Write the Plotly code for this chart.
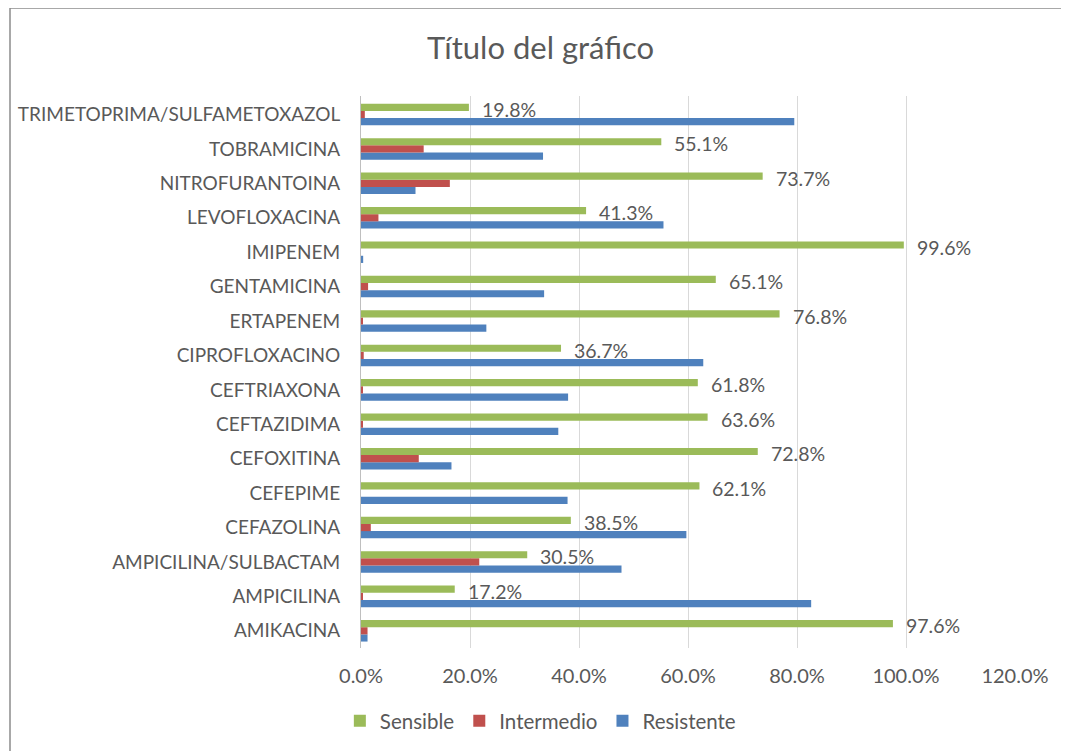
import plotly.graph_objects as go

# categories listed bottom -> top, as they appear on the chart
antibioticos = [
    "AMIKACINA", "AMPICILINA", "AMPICILINA/SULBACTAM", "CEFAZOLINA", "CEFEPIME",
    "CEFOXITINA", "CEFTAZIDIMA", "CEFTRIAXONA", "CIPROFLOXACINO", "ERTAPENEM",
    "GENTAMICINA", "IMIPENEM", "LEVOFLOXACINA", "NITROFURANTOINA", "TOBRAMICINA",
    "TRIMETOPRIMA/SULFAMETOXAZOL",
]
sensible = [97.6, 17.2, 30.5, 38.5, 62.1, 72.8, 63.6, 61.8, 36.7, 76.8, 65.1, 99.6, 41.3, 73.7, 55.1, 19.8]
intermedio = [1.2, 0.2, 21.7, 1.8, 0.0, 10.6, 0.2, 0.2, 0.5, 0.2, 1.3, 0.0, 3.2, 16.3, 11.5, 0.7]
resistente = [1.2, 82.6, 47.8, 59.7, 37.9, 16.6, 36.2, 38.0, 62.8, 23.0, 33.6, 0.4, 55.5, 10.0, 33.4, 79.5]

FONT = "Lato"
GRIS = "#595959"

fig = go.Figure()
# plotly stacks group members bottom-up, so add blue first to keep green on top
fig.add_trace(go.Bar(y=antibioticos, x=resistente, name="Resistente", orientation="h",
                     marker=dict(color="#4f81bd", line=dict(width=0))))
fig.add_trace(go.Bar(y=antibioticos, x=intermedio, name="Intermedio", orientation="h",
                     marker=dict(color="#c0504d", line=dict(width=0))))
fig.add_trace(go.Bar(y=antibioticos, x=sensible, name="Sensible", orientation="h",
                     marker=dict(color="#9bbb59", line=dict(width=0))))

# data labels for Sensible only
for cat, val in zip(antibioticos, sensible):
    fig.add_annotation(x=val, y=cat, text=f"{val:.1f}%", showarrow=False,
                       xanchor="left", yanchor="middle", xshift=11, yshift=5,
                       font=dict(family=FONT, size=19.5, color=GRIS))

# page body has an 8px margin, so the figure is 8px smaller and shifted
fig.update_layout(
    width=1061, height=743,
    margin=dict(l=353, r=54, t=88, b=103, autoexpand=False),
    paper_bgcolor="white", plot_bgcolor="white",
    barmode="group", bargap=0.374, bargroupgap=0,
    font=dict(family=FONT, color=GRIS),
    title=dict(text="Título del gráfico", x=0.502, xanchor="center", y=0.946, yanchor="middle",
               font=dict(family=FONT, size=31, color=GRIS)),
    legend=dict(orientation="h", traceorder="reversed", x=0.275, xanchor="center",
                y=-0.1322, yanchor="middle", itemwidth=30,
                font=dict(family=FONT, size=20.5, color=GRIS)),
    showlegend=True,
)
fig.update_xaxes(range=[0, 120], dtick=20, tickformat=".1f", ticksuffix="%",
                 showgrid=True, gridcolor="#d9d9d9", gridwidth=1, zeroline=False,
                 ticks="", showline=False, ticklabelstandoff=14,
                 tickfont=dict(family=FONT, size=20, color=GRIS))
fig.update_yaxes(showgrid=False, showline=True, linecolor="#bfbfbf", linewidth=1,
                 ticks="", ticklabelstandoff=16,
                 tickfont=dict(family=FONT, size=19, color=GRIS))

# outer chart border (Excel style frame, cut by the page edges)
fig.add_shape(type="rect", xref="paper", yref="paper",
              x0=(2 - 353) / 654, x1=1.3, y0=-0.4, y1=1 + 88 / 552,
              line=dict(color="#8c8c8c", width=1.5), fillcolor="rgba(0,0,0,0)", layer="below")

fig.write_html("out.html")
